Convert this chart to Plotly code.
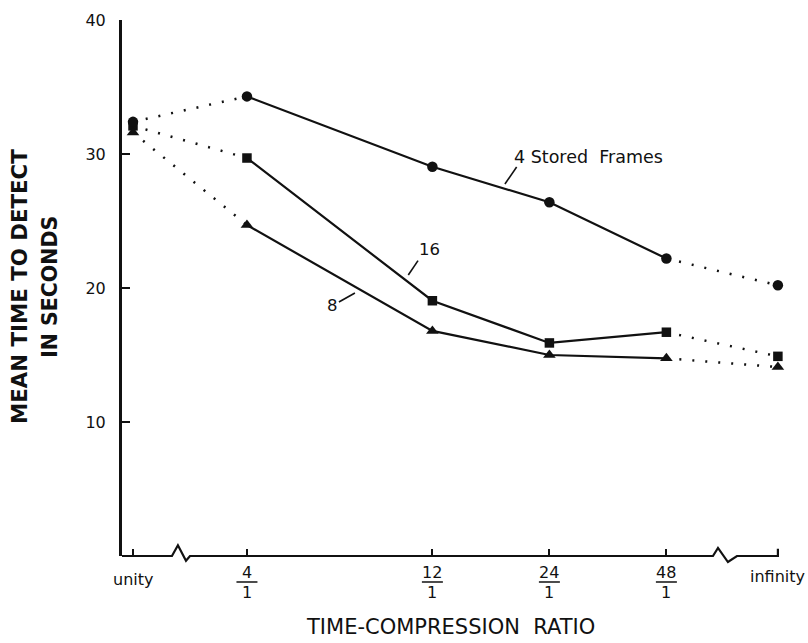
import numpy as np
import plotly.graph_objects as go

# ---------------- data ----------------
ratio_labels = ["unity", "4/1", "12/1", "24/1", "48/1", "infinity"]
finite_ratios = [4, 12, 24, 48]
frames4 = [32.4, 34.3, 29.05, 26.4, 22.2, 20.2]
frames16 = [32.1, 29.7, 19.05, 15.9, 16.7, 14.9]
frames8 = [31.6, 24.7, 16.8, 15.0, 14.75, 14.1]
y_ticks = [10, 20, 30, 40]

# ---------------- layout constants ----------------
X_RANGE = [0.932, 6.556]
Y_RANGE = [0, 40]
UNITY_X = 1.026      # off-scale position left of axis break
INF_X = 6.538        # off-scale position right of axis break
x_pos = [UNITY_X] + [float(np.log2(r)) for r in finite_ratios] + [INF_X]

INK = "#111111"
FONT = "DejaVu Sans"

def px(x):
    return (x - X_RANGE[0]) / (X_RANGE[1] - X_RANGE[0])

def py(y):
    return (y - Y_RANGE[0]) / (Y_RANGE[1] - Y_RANGE[0])

fig = go.Figure()

series = [
    (frames16, "square", 9.5),
    (frames8, "triangle-up", 11),
    (frames4, "circle", 10.5),
]
for vals, sym, size in series:
    # dotted extrapolations to unity / infinity
    fig.add_trace(go.Scatter(x=x_pos[0:2], y=vals[0:2], mode="lines",
                             line=dict(color=INK, width=2.5, dash="2px,11px"),
                             hoverinfo="skip", showlegend=False))
    fig.add_trace(go.Scatter(x=x_pos[4:6], y=vals[4:6], mode="lines",
                             line=dict(color=INK, width=2.5, dash="2px,11px"),
                             hoverinfo="skip", showlegend=False))
    fig.add_trace(go.Scatter(x=x_pos[1:5], y=vals[1:5], mode="lines",
                             line=dict(color=INK, width=2.2),
                             showlegend=False))
for vals, sym, size in series:
    fig.add_trace(go.Scatter(x=x_pos, y=vals, mode="markers",
                             marker=dict(symbol=sym, size=size, color=INK,
                                         line=dict(width=0)),
                             showlegend=False, cliponaxis=False))

shapes = []
# x axis line with breaks
path_pts = [
    (X_RANGE[0], 0), (1.359, 0), (1.41, 0.8), (1.479, -0.35), (1.513, 0),
    (5.983, 0), (6.026, 0.6), (6.111, -0.45), (6.188, 0), (INF_X, 0), (INF_X, 0.55)
]
path = "M " + " L ".join(f"{px(a):.5f},{py(b):.5f}" for a, b in path_pts)
shapes.append(dict(type="path", path=path, xref="paper", yref="paper",
                   line=dict(color=INK, width=2.2)))

annotations = []
# x tick labels
annotations.append(dict(x=x_pos[0], y=-0.043, xref="x", yref="paper",
                        text="unity", showarrow=False, xanchor="center", yanchor="middle",
                        font=dict(family=FONT, size=16, color=INK)))
annotations.append(dict(x=x_pos[5], y=-0.039, xref="x", yref="paper",
                        text="infinity", showarrow=False, xanchor="center", yanchor="middle",
                        font=dict(family=FONT, size=16, color=INK)))
for xv, r in zip(x_pos[1:5], finite_ratios):
    annotations.append(dict(x=xv, y=-0.031, xref="x", yref="paper", text=str(r),
                            showarrow=False, xanchor="center", yanchor="middle",
                            font=dict(family=FONT, size=16, color=INK)))
    annotations.append(dict(x=xv, y=-0.068, xref="x", yref="paper", text="1",
                            showarrow=False, xanchor="center", yanchor="middle",
                            font=dict(family=FONT, size=16, color=INK)))
    half = 10.5 / 658
    shapes.append(dict(type="line", xref="paper", yref="paper",
                       x0=px(xv) - half, x1=px(xv) + half, y0=-0.0485, y1=-0.0485,
                       line=dict(color=INK, width=1.5)))

# axis titles
annotations.append(dict(x=0.4985, y=-0.133, xref="paper", yref="paper",
                        text="TIME-COMPRESSION\u00a0 RATIO", showarrow=False,
                        xanchor="center", yanchor="middle",
                        font=dict(family=FONT, size=21, color=INK)))
annotations.append(dict(x=-0.1558, y=0.503, xref="paper", yref="paper",
                        text="MEAN TIME TO DETECT", showarrow=False, textangle=-90,
                        xanchor="center", yanchor="middle",
                        font=dict(family=FONT, size=21.3, color=INK, weight="bold")))
annotations.append(dict(x=-0.1087, y=0.503, xref="paper", yref="paper",
                        text="IN SECONDS", showarrow=False, textangle=-90,
                        xanchor="center", yanchor="middle",
                        font=dict(family=FONT, size=20.5, color=INK, weight="bold")))

# series labels with leader lines
annotations.append(dict(x=4.923, y=29.74, xref="x", yref="y", text="4 Stored\u00a0 Frames",
                        showarrow=False, xanchor="center", yanchor="middle",
                        font=dict(family=FONT, size=17.5, color=INK)))
annotations.append(dict(x=3.56, y=22.91, xref="x", yref="y", text="16",
                        showarrow=False, xanchor="center", yanchor="middle",
                        font=dict(family=FONT, size=16.5, color=INK)))
annotations.append(dict(x=2.735, y=18.73, xref="x", yref="y", text="8",
                        showarrow=False, xanchor="center", yanchor="middle",
                        font=dict(family=FONT, size=16.5, color=INK)))
for (x0, y0, x1, y1) in [(4.305, 29.03, 4.205, 27.76),
                         (3.462, 22.04, 3.379, 20.97),
                         (2.786, 18.96, 2.923, 19.63)]:
    shapes.append(dict(type="line", xref="x", yref="y", x0=x0, y0=y0, x1=x1, y1=y1,
                       line=dict(color=INK, width=1.6)))

fig.update_layout(
    width=808, height=643,
    margin=dict(l=122, r=28, t=20, b=87),
    paper_bgcolor="white", plot_bgcolor="white",
    showlegend=False,
    shapes=shapes, annotations=annotations,
    xaxis=dict(range=X_RANGE, showgrid=False, zeroline=False, showline=False,
               tickvals=x_pos, ticktext=[""] * len(x_pos),
               ticks="inside", ticklen=7, tickwidth=1.5, tickcolor=INK),
    yaxis=dict(range=Y_RANGE, showgrid=False, zeroline=False, showline=True,
               linecolor=INK, linewidth=3, tickvals=y_ticks,
               ticktext=[str(v) for v in y_ticks],
               ticks="inside", ticklen=8, tickwidth=2, tickcolor=INK,
               ticklabelstandoff=10,
               tickfont=dict(family=FONT, size=16, color=INK)),
)

fig.write_html("out.html")
